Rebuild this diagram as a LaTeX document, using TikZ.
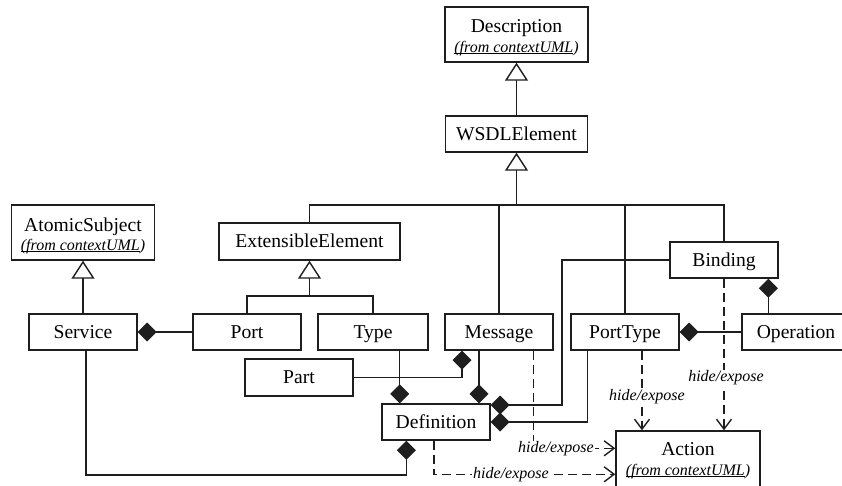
\documentclass[tikz,border=0pt]{standalone}
\usepackage{fontspec}
\setmainfont{Liberation Serif}
\usetikzlibrary{arrows.meta}
\definecolor{ink}{HTML}{1E1E1E}
\newcommand\myul[1]{\setbox0\hbox{#1}\rlap{\rule[-1.8pt]{\wd0}{0.8pt}}\box0}
\tikzset{
  cls/.style={draw=ink, line width=1.4pt, fill=white, inner sep=0pt,
    font=\fontsize{19.6pt}{23pt}\selectfont, text height=13pt, text depth=1pt},
  nm/.style={inner sep=0pt, font=\fontsize{19.6pt}{23pt}\selectfont, anchor=base},
  fr/.style={inner sep=0pt, font=\fontsize{16pt}{19pt}\selectfont\itshape, anchor=base},
  ln/.style={draw=ink, line width=1.4pt},
  gen/.style={ln, -{Triangle[open, length=18pt, width=23pt]}},
  comp/.style={ln, -{Diamond[length=19pt, width=19pt]}},
  dep/.style={ln, dash pattern=on 9pt off 5pt, -{Straight Barb[length=10pt, width=15pt]}},
  lbl/.style={fill=white, inner sep=1pt, font=\fontsize{16pt}{19pt}\selectfont\itshape},
}
\begin{document}
\begin{tikzpicture}[x=1pt, y=-1pt]
\useasboundingbox (0,0) rectangle (842,485);
\fill[white] (0,0) rectangle (842,485);
\clip (0,0) rectangle (842,485);

% classes
\node[cls, minimum width=143pt, minimum height=55pt] (desc) at (516.5,34.5) {};
\node[nm] (descN) at (516.5,32) {Description};
\node[fr] (descF) at (516.5,52) {\myul{(from contextUML})};

\node[cls, minimum width=142pt, minimum height=36pt] (wsdl) at (516.5,134) {WSDLElement};

\node[cls, minimum width=143pt, minimum height=55pt] (atomic) at (83,232.5) {};
\node[nm] (atomicN) at (83,231) {AtomicSubject};
\node[fr] (atomicF) at (83,250) {\myul{(from contextUML})};

\node[cls, minimum width=181pt, minimum height=37pt] (ext) at (309.5,241.5) {ExtensibleElement};

\node[cls, minimum width=108pt, minimum height=36pt] (service) at (83,332) {Service};
\node[cls, minimum width=108pt, minimum height=36pt] (port) at (247,332) {Port};
\node[cls, minimum width=110pt, minimum height=36pt] (type) at (373,332) {Type};
\node[cls, minimum width=108pt, minimum height=36pt] (message) at (499,332) {Message};
\node[cls, minimum width=108pt, minimum height=36pt] (porttype) at (625,332) {PortType};
\node[cls, minimum width=108pt, minimum height=36pt] (operation) at (796,332) {Operation};
\node[cls, minimum width=108pt, minimum height=36pt] (binding) at (724,260) {Binding};
\node[cls, minimum width=108pt, minimum height=37pt] (part) at (299,377.5) {Part};
\node[cls, minimum width=108pt, minimum height=36pt] (definition) at (436,422) {Definition};

\node[cls, minimum width=144pt, minimum height=60pt] (action) at (688,461) {};
\node[nm] (actionN) at (688,455) {Action};
\node[fr] (actionF) at (688,475) {\myul{(from contextUML})};

% generalizations
\draw[gen] (wsdl) -- (desc);
\coordinate (bus) at (516.5,205);
\draw[gen] (bus) -- (wsdl);
\draw[ln] (ext.north) |- (bus);
\draw[ln] (message.north) |- (bus);
\draw[ln] (porttype.north) |- (bus);
\draw[ln] (binding.north) |- (bus);
\draw[gen] (service) -- (atomic);
\coordinate (eeb) at (309.5,296);
\draw[gen] (eeb) -- (ext.south);
\draw[ln] (port.north) |- (eeb);
\draw[ln] (type.north) |- (eeb);

% compositions
\draw[comp] (port.west) -- (service.east);
\draw[comp] (part.east) -| ([xshift=-37pt]message.south);
\draw[comp] ([xshift=-29pt]type.south east) -- ([xshift=-29pt]type.south east |- definition.north);
\draw[comp] ([xshift=-20pt]message.south) -- ([xshift=-20pt]message.south |- definition.north);
\coordinate (bdc) at (562,405);
\draw[comp] (binding.west) -| (bdc) -- (bdc -| definition.east);
\draw[comp] ([xshift=17pt]porttype.south west) |- (definition.east);
\coordinate (sdc) at (200,475);
\draw[comp] ([xshift=3pt]service.south) |- (sdc) -| ([xshift=25pt]definition.south west);
\draw[comp] (operation.west) -- (porttype.east);
\draw[comp] ([xshift=27pt]operation.north west) -- ([xshift=27pt]operation.north west |- binding.south);

% dependencies
\draw[dep] (binding.south) -- (binding.south |- action.north);
\draw[dep] ([xshift=17pt]porttype.south) -- ([xshift=17pt]porttype.south |- action.north);
\draw[dep] ([xshift=-20pt]message.south east) |- ([yshift=-18pt]action.north west);
\draw[dep] ([xshift=-2pt]definition.south) |- ([yshift=-44pt]action.north west);

\node[lbl] (h1) at (726,378) {hide/expose};
\node[lbl] (h2) at (647,397) {hide/expose};
\node[lbl] (h3) at (556,449) {hide/expose};
\node[lbl] (h4) at (511,475) {hide/expose};
\end{tikzpicture}
\end{document}
